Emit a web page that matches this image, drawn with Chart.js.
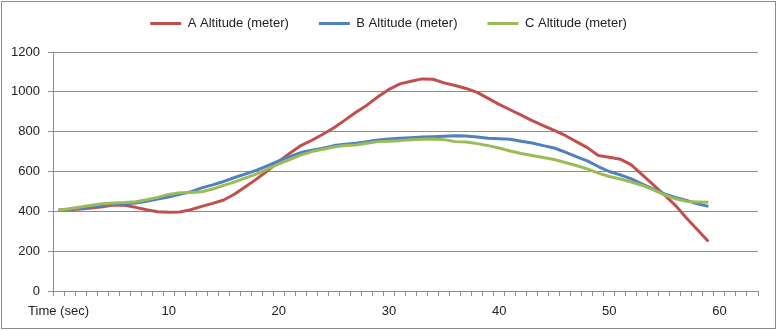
<!DOCTYPE html>
<html>
<head>
<meta charset="utf-8">
<title>Altitude</title>
<script src="https://cdn.jsdelivr.net/npm/chart.js@4/dist/chart.umd.min.js"></script>
<style>
  html, body { margin: 0; padding: 0; background: #fff; }
  #wrap { width: 777px; height: 330px; }
</style>
</head>
<body>
<div id="wrap"><canvas id="altitude-chart" width="777" height="330"></canvas></div>
<script>
/* ═══════════════════════════════════════════════════════════
   Altitude of the three balloons over time
   ═══════════════════════════════════════════════════════════ */

const timeLabels = [
  'Time (sec)', '1', '2', '3', '4', '5', '6', '7', '8', '9',
  '10', '11', '12', '13', '14', '15', '16', '17', '18', '19',
  '20', '21', '22', '23', '24', '25', '26', '27', '28', '29',
  '30', '31', '32', '33', '34', '35', '36', '37', '38', '39',
  '40', '41', '42', '43', '44', '45', '46', '47', '48', '49',
  '50', '51', '52', '53', '54', '55', '56', '57', '58', '59',
  '60', '61', '62', '63',
];

const seriesNames = ['A Altitude (meter)', 'B Altitude (meter)', 'C Altitude (meter)'];
const seriesColors = ['#C0504D', '#4F81BD', '#9BBB59'];

const altitudeA = [
  405, 408, 412, 417, 423, 432, 430, 420, 408, 398,
  395, 397, 408, 425, 440, 457, 487, 525, 563, 605,
  650, 692, 730, 757, 787, 820, 858, 897, 933, 975,
  1012, 1040, 1053, 1065, 1063, 1045, 1032, 1017, 997, 967,
  937, 910, 883, 855, 830, 807, 781, 750, 720, 680,
  672, 662, 633, 583, 533, 483, 430, 367, 308, 248,
];

const altitudeB = [
  405, 410, 416, 423, 430, 435, 438, 442, 450, 462,
  472, 485, 498, 518, 533, 550, 570, 588, 607, 630,
  653, 675, 695, 707, 717, 730, 737, 742, 750, 758,
  763, 767, 770, 773, 775, 777, 780, 778, 773, 767,
  765, 762, 752, 743, 730, 718, 697, 675, 653, 625,
  600, 583, 563, 537, 512, 488, 470, 455, 438, 425,
];

const altitudeC = [
  405, 413, 422, 430, 438, 442, 444, 448, 458, 470,
  485, 493, 495, 498, 512, 530, 548, 568, 588, 613,
  638, 660, 682, 700, 712, 723, 730, 733, 742, 750,
  752, 755, 760, 762, 763, 760, 750, 748, 740, 730,
  718, 703, 690, 680, 670, 660, 645, 630, 613, 592,
  575, 562, 547, 530, 508, 483, 463, 450, 447, 445,
];

const yTicks = { min: 0, max: 1200, step: 200 };

const GRID = '#8c8c8c';
const TEXT = '#222222';
const FONT = { family: '"Liberation Sans", Arial, sans-serif', size: 13 };

// white background + thin frame around the whole chart
const frame = {
  id: 'frame',
  beforeDraw(chart) {
    const c = chart.ctx;
    c.save();
    c.fillStyle = '#ffffff';
    c.fillRect(0, 0, chart.width, chart.height);
    c.restore();
  },
  afterDraw(chart) {
    const c = chart.ctx;
    c.save();
    c.strokeStyle = GRID;
    c.lineWidth = 1;
    c.strokeRect(1.5, 1.5, chart.width - 3, chart.height - 3);
    c.restore();
  },
};

// more room between the legend and the plot
const legendGap = {
  id: 'legendGap',
  beforeInit(chart) {
    const fit = chart.legend.fit;
    chart.legend.fit = function () {
      fit.bind(chart.legend)();
      this.height += 12;
    };
  },
};

const allSeries = [altitudeA, altitudeB, altitudeC];
const datasets = allSeries.map((data, idx) => ({
  label: seriesNames[idx],
  data,
  borderColor: seriesColors[idx],
  backgroundColor: seriesColors[idx],
  borderWidth: 3,
  pointRadius: 0,
  tension: 0,
  borderJoinStyle: 'round',
  fill: false,
  order: allSeries.length - idx, // later series on top
}));

new Chart(document.getElementById('altitude-chart'), {
  type: 'line',
  data: { labels: timeLabels, datasets },
  plugins: [frame, legendGap],
  options: {
    responsive: false,
    animation: false,
    devicePixelRatio: 1,
    layout: { padding: { top: -13, right: 0, bottom: 0, left: 0 } },
    plugins: {
      legend: {
        position: 'top',
        labels: {
          color: TEXT,
          font: FONT,
          padding: 30,
          usePointStyle: true,
          pointStyle: 'line',
          pointStyleWidth: 31,
          sort: (a, b) => a.datasetIndex - b.datasetIndex,
        },
      },
      tooltip: { enabled: false },
    },
    scales: {
      x: {
        type: 'category',
        offset: true,
        grid: {
          offset: true,
          drawOnChartArea: false,
          drawTicks: true,
          tickLength: 5,
          color: GRID,
        },
        border: { color: GRID, width: 1 },
        ticks: {
          color: TEXT,
          font: FONT,
          padding: 8,
          autoSkip: false,
          maxRotation: 0,
          minRotation: 0,
          callback: function (val, i) {
            return i % 10 === 0 ? this.getLabelForValue(val) : '';
          },
        },
        afterFit: (scale) => {
          scale.height = 39;
          scale.paddingRight = 19; // empty strip right of the plot
        },
      },
      y: {
        min: yTicks.min,
        max: yTicks.max,
        grid: { color: GRID, tickLength: 5 },
        border: { color: GRID, width: 1 },
        ticks: {
          stepSize: yTicks.step,
          color: TEXT,
          font: FONT,
          padding: 8,
          callback: (v) => String(v), // plain numbers, no thousands separator
        },
        afterFit: (scale) => { scale.width = 53; },
      },
    },
  },
});
</script>
</body>
</html>
